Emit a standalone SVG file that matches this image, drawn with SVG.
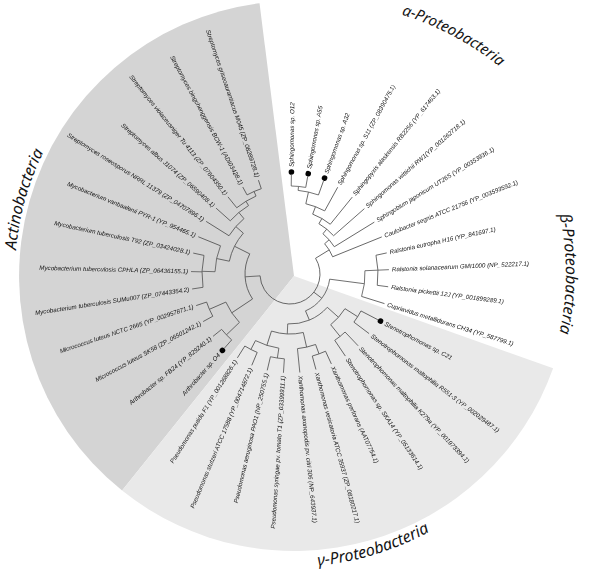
<svg xmlns="http://www.w3.org/2000/svg" width="600" height="576" viewBox="0 0 600 576">
<style>
.lb{font-family:"Liberation Sans",Arial,sans-serif;font-size:6.2px;font-style:italic;fill:#111}
.br line,.br circle{stroke:#555;stroke-width:0.8;fill:none}
.ti{font-family:"Noto Sans","DejaVu Sans",sans-serif;font-style:italic;font-size:16px;fill:#111}
.dot{fill:#000}
</style>
<defs>
<path id="pA" d="M15.8,294.6 A275 275 0 0 1 66.7,113.5"/>
<path id="pAl" d="M382,9 A300 300 0 0 1 515,80"/>
<path id="pB" d="M540.1,157.4 A276 276 0 0 1 540.1,390.6"/>
<path id="pG" d="M249.2,564.2 A293 293 0 0 0 486.1,491.7"/>
</defs>
<rect width="600" height="576" fill="#fff"/>
<g id="sectors">
<path d="M294,276 L259.5,3.2 A275 275 0 0 0 122.1,490.6 Z" fill="#d4d4d4"/>
<path d="M294,276 L122.1,490.6 A275 275 0 0 0 553.1,368.3 Z" fill="#e9e9e9"/>
</g>
<g id="titles" opacity="0.99">
<text class="ti"><textPath href="#pA" startOffset="50%" text-anchor="middle">Actinobacteria</textPath></text>
<text class="ti" style="font-size:15px"><textPath href="#pAl" startOffset="50%" text-anchor="middle">α-Proteobacteria</textPath></text>
<text class="ti"><textPath href="#pB" startOffset="50%" text-anchor="middle">β-Proteobacteria</textPath></text>
<text class="ti"><textPath href="#pG" startOffset="50%" text-anchor="middle">γ-Proteobacteria</textPath></text>
</g>
<g transform="translate(290,274)">
<g id="connectors" class="br">
<circle r="30" transform="rotate(328.4)" stroke-dasharray="108.91 2000"/>
<line x1="30" x2="46" transform="rotate(328.4)"/>
<line x1="30" x2="40" transform="rotate(397.3)"/>
<line x1="30" x2="45" transform="rotate(536.4)"/>
<circle r="88" transform="rotate(270.8)" stroke-dasharray="14.59 2000"/>
<line x1="88" x2="99" transform="rotate(270.8)"/>
<line x1="88" x2="99" transform="rotate(280.3)"/>
<circle r="84" transform="rotate(275.55)" stroke-dasharray="20.89 2000"/>
<line x1="84" x2="88" transform="rotate(275.55)"/>
<line x1="84" x2="99" transform="rotate(289.8)"/>
<circle r="72" transform="rotate(282.7)" stroke-dasharray="20.23 2000"/>
<line x1="72" x2="84" transform="rotate(282.7)"/>
<line x1="72" x2="99" transform="rotate(298.8)"/>
<circle r="64" transform="rotate(290.75)" stroke-dasharray="20.39 2000"/>
<line x1="64" x2="72" transform="rotate(290.75)"/>
<line x1="64" x2="99" transform="rotate(309)"/>
<circle r="58" transform="rotate(299.9)" stroke-dasharray="19.03 2000"/>
<line x1="58" x2="64" transform="rotate(299.9)"/>
<line x1="58" x2="99" transform="rotate(318.7)"/>
<circle r="52" transform="rotate(309.3)" stroke-dasharray="17.33 2000"/>
<line x1="52" x2="58" transform="rotate(309.3)"/>
<line x1="52" x2="99" transform="rotate(328.4)"/>
<circle r="46" transform="rotate(318.85)" stroke-dasharray="15.37 2000"/>
<line x1="46" x2="52" transform="rotate(318.85)"/>
<line x1="46" x2="99" transform="rotate(338)"/>
<circle r="88" transform="rotate(347.7)" stroke-dasharray="30.26 2000"/>
<line x1="88" x2="99" transform="rotate(347.7)"/>
<line x1="88" x2="99" transform="rotate(357.5)"/>
<line x1="88" x2="99" transform="rotate(367.4)"/>
<circle r="75" transform="rotate(357.5)" stroke-dasharray="26.05 2000"/>
<line x1="75" x2="88" transform="rotate(357.5)"/>
<line x1="75" x2="99" transform="rotate(377.4)"/>
<circle r="40" transform="rotate(367.45)" stroke-dasharray="41.71 2000"/>
<line x1="40" x2="75" transform="rotate(367.45)"/>
<line x1="40" x2="50" transform="rotate(427.2)"/>
<circle r="80" transform="rotate(387.5)" stroke-dasharray="13.26 2000"/>
<line x1="80" x2="99" transform="rotate(387.5)"/>
<line x1="80" x2="99" transform="rotate(397)"/>
<circle r="80" transform="rotate(406.5)" stroke-dasharray="13.26 2000"/>
<line x1="80" x2="99" transform="rotate(406.5)"/>
<line x1="80" x2="99" transform="rotate(416)"/>
<circle r="65" transform="rotate(392.25)" stroke-dasharray="21.55 2000"/>
<line x1="65" x2="80" transform="rotate(392.25)"/>
<line x1="65" x2="80" transform="rotate(411.25)"/>
<circle r="50" transform="rotate(401.75)" stroke-dasharray="44.37 2000"/>
<line x1="50" x2="65" transform="rotate(401.75)"/>
<line x1="50" x2="60" transform="rotate(452.6)"/>
<circle r="85" transform="rotate(425.3)" stroke-dasharray="14.09 2000"/>
<line x1="85" x2="99" transform="rotate(425.3)"/>
<line x1="85" x2="99" transform="rotate(434.8)"/>
<circle r="75" transform="rotate(430.05)" stroke-dasharray="18.65 2000"/>
<line x1="75" x2="85" transform="rotate(430.05)"/>
<line x1="75" x2="99" transform="rotate(444.3)"/>
<circle r="85" transform="rotate(453.8)" stroke-dasharray="14.09 2000"/>
<line x1="85" x2="99" transform="rotate(453.8)"/>
<line x1="85" x2="99" transform="rotate(463.3)"/>
<circle r="85" transform="rotate(472.7)" stroke-dasharray="13.95 2000"/>
<line x1="85" x2="99" transform="rotate(472.7)"/>
<line x1="85" x2="99" transform="rotate(482.1)"/>
<circle r="75" transform="rotate(458.55)" stroke-dasharray="24.67 2000"/>
<line x1="75" x2="85" transform="rotate(458.55)"/>
<line x1="75" x2="85" transform="rotate(477.4)"/>
<circle r="60" transform="rotate(437.2)" stroke-dasharray="32.23 2000"/>
<line x1="60" x2="75" transform="rotate(437.2)"/>
<line x1="60" x2="75" transform="rotate(467.98)"/>
<circle r="90" transform="rotate(601.5)" stroke-dasharray="15.55 2000"/>
<line x1="90" x2="99" transform="rotate(601.5)"/>
<line x1="90" x2="99" transform="rotate(611.4)"/>
<circle r="85" transform="rotate(591.2)" stroke-dasharray="22.62 2000"/>
<line x1="85" x2="90" transform="rotate(606.45)"/>
<line x1="85" x2="99" transform="rotate(591.2)"/>
<circle r="80" transform="rotate(581.7)" stroke-dasharray="23.88 2000"/>
<line x1="80" x2="85" transform="rotate(598.8)"/>
<line x1="80" x2="99" transform="rotate(581.7)"/>
<circle r="72" transform="rotate(572.1)" stroke-dasharray="22.81 2000"/>
<line x1="72" x2="80" transform="rotate(590.25)"/>
<line x1="72" x2="99" transform="rotate(572.1)"/>
<circle r="88" transform="rotate(531.3)" stroke-dasharray="32.10 2000"/>
<line x1="88" x2="99" transform="rotate(531.3)"/>
<line x1="88" x2="99" transform="rotate(541.4)"/>
<line x1="88" x2="99" transform="rotate(552.2)"/>
<circle r="75" transform="rotate(541.75)" stroke-dasharray="26.64 2000"/>
<line x1="75" x2="88" transform="rotate(541.75)"/>
<line x1="75" x2="99" transform="rotate(562.1)"/>
<circle r="62" transform="rotate(551.9)" stroke-dasharray="31.71 2000"/>
<line x1="62" x2="75" transform="rotate(551.9)"/>
<line x1="62" x2="72" transform="rotate(581.2)"/>
<circle r="88" transform="rotate(511.3)" stroke-dasharray="15.51 2000"/>
<line x1="88" x2="99" transform="rotate(511.3)"/>
<line x1="88" x2="99" transform="rotate(521.4)"/>
<circle r="88" transform="rotate(491.5)" stroke-dasharray="14.59 2000"/>
<line x1="88" x2="99" transform="rotate(491.5)"/>
<line x1="88" x2="99" transform="rotate(501)"/>
<circle r="70" transform="rotate(496.25)" stroke-dasharray="24.56 2000"/>
<line x1="70" x2="88" transform="rotate(496.25)"/>
<line x1="70" x2="88" transform="rotate(516.35)"/>
<circle r="45" transform="rotate(506.3)" stroke-dasharray="47.32 2000"/>
<line x1="45" x2="70" transform="rotate(506.3)"/>
<line x1="45" x2="62" transform="rotate(566.55)"/>
</g>
<g id="leaves" opacity="0.99">
<g id="P1" transform="rotate(270.8)"><circle class="dot" cx="102" r="2.8"/><text class="lb" x="107" dy="2">Sphingomonas sp. O12</text></g>
<g id="P2" transform="rotate(280.3)"><circle class="dot" cx="102" r="2.8"/><text class="lb" x="107" dy="2">Sphingomonas sp. A55</text></g>
<g id="P3" transform="rotate(289.8)"><circle class="dot" cx="102" r="2.8"/><text class="lb" x="107" dy="2">Sphingomonas sp. A32</text></g>
<g id="P4" transform="rotate(298.8)"><text class="lb" x="102" dy="2">Sphingomonas sp. S11 (ZP_08390475.1)</text></g>
<g id="P5" transform="rotate(309)"><text class="lb" x="102" dy="2">Sphingopyxis alaskensis RB2256 (YP_617463.1)</text></g>
<g id="P6" transform="rotate(318.7)"><text class="lb" x="102" dy="2">Sphingomonas wittichii RW1(YP_001262718.1)</text></g>
<g id="P7" transform="rotate(328.4)"><text class="lb" x="102" dy="2">Sphingobium japonicum UT26S (YP_00353936.1)</text></g>
<g id="P8" transform="rotate(338)"><text class="lb" x="102" dy="2">Caulobacter segnis ATCC 21756 (YP_003593592.1)</text></g>
<g id="P9" transform="rotate(347.7)"><text class="lb" x="102" dy="2">Ralstonia eutropha H16 (YP_841697.1)</text></g>
<g id="B1" transform="rotate(357.5)"><text class="lb" x="102" dy="2">Ralstonia solanacearum GMI1000 (NP_522217.1)</text></g>
<g id="B2" transform="rotate(7.4)"><text class="lb" x="102" dy="2">Ralstonia pickettii 12J (YP_001899289.1)</text></g>
<g id="B3" transform="rotate(17.4)"><text class="lb" x="102" dy="2">Cupriavidus metallidurans CH34 (YP_587799.1)</text></g>
<g id="G1" transform="rotate(27.5)"><circle class="dot" cx="102" r="2.8"/><text class="lb" x="107" dy="2">Stenotrophomonas sp. C21</text></g>
<g id="G2" transform="rotate(37)"><text class="lb" x="102" dy="2">Stenotrophomonas maltophilia R551-3 (YP_002029487.1)</text></g>
<g id="G3" transform="rotate(46.5)"><text class="lb" x="102" dy="2">Stenotrophomonas maltophilia K279a (YP_001973394.1)</text></g>
<g id="G4" transform="rotate(56)"><text class="lb" x="102" dy="2">Stenotrophomonas sp. SKA14 (YP_05133614.1)</text></g>
<g id="G5" transform="rotate(65.3)"><text class="lb" x="102" dy="2">Xanthomonas perforans (AAT07754.1)</text></g>
<g id="G6" transform="rotate(74.8)"><text class="lb" x="102" dy="2">Xanthomonas vesicatoria ATCC 35937 (ZP_08180217.1)</text></g>
<g id="G7" transform="rotate(84.3)"><text class="lb" x="102" dy="2">Xanthomonas axonopodis pv. citri 306 (NP_643937.1)</text></g>
<g id="G8" transform="rotate(93.8) translate(102,0) rotate(180)"><text class="lb" text-anchor="end" dy="2">Pseudomonas syringae pv. tomato T1 (ZP_03399911.1)</text></g>
<g id="G9" transform="rotate(103.3) translate(102,0) rotate(180)"><text class="lb" text-anchor="end" dy="2">Pseudomonas aeruginosa PAO1 (NP_250755.1)</text></g>
<g id="G10" transform="rotate(112.7) translate(102,0) rotate(180)"><text class="lb" text-anchor="end" dy="2">Pseudomonas stutzeri ATCC 17588 (YP_004714872.1)</text></g>
<g id="G11" transform="rotate(122.1) translate(102,0) rotate(180)"><text class="lb" text-anchor="end" dy="2">Pseudomonas putida F1 (YP_001268826.1)</text></g>
<g id="A13" transform="rotate(131.5) translate(102,0) rotate(180)"><circle class="dot" r="2.8"/><text class="lb" x="-5" text-anchor="end" dy="2">Arthrobacter sp. O4</text></g>
<g id="A12" transform="rotate(141) translate(102,0) rotate(180)"><text class="lb" text-anchor="end" dy="2">Arthrobacter sp. FB24 (YP_829240.1)</text></g>
<g id="A11" transform="rotate(151.3) translate(102,0) rotate(180)"><text class="lb" text-anchor="end" dy="2">Micrococcus luteus SK58 (ZP_06501242.1)</text></g>
<g id="A10" transform="rotate(161.4) translate(102,0) rotate(180)"><text class="lb" text-anchor="end" dy="2">Micrococcus luteus NCTC 2665 (YP_002957871.1)</text></g>
<g id="A9" transform="rotate(171.3) translate(102,0) rotate(180)"><text class="lb" text-anchor="end" dy="2">Mycobacterium tuberculosis SUMu007 (ZP_07443354.2)</text></g>
<g id="A8" transform="rotate(181.4) translate(102,0) rotate(180)"><text class="lb" text-anchor="end" dy="2">Mycobacterium tuberculosis CPHLA (ZP_06436155.1)</text></g>
<g id="A7" transform="rotate(192.2) translate(102,0) rotate(180)"><text class="lb" text-anchor="end" dy="2">Mycobacterium tuberculosis T92 (ZP_03424028.1)</text></g>
<g id="A6" transform="rotate(202.1) translate(102,0) rotate(180)"><text class="lb" text-anchor="end" dy="2">Mycobacterium vanbaalenii PYR-1 (YP_954465.1)</text></g>
<g id="A5" transform="rotate(212.1) translate(102,0) rotate(180)"><text class="lb" text-anchor="end" dy="2">Streptomyces roseosporus NRRL 11379 (ZP_04707896.1)</text></g>
<g id="A4" transform="rotate(221.7) translate(102,0) rotate(180)"><text class="lb" text-anchor="end" dy="2">Streptomyces albus J1074 (ZP_06590408.1)</text></g>
<g id="A3" transform="rotate(231.2) translate(102,0) rotate(180)"><text class="lb" text-anchor="end" dy="2">Streptomyces violaceusniger Tu 4113 (ZP_07604350.1)</text></g>
<g id="A2" transform="rotate(241.5) translate(102,0) rotate(180)"><text class="lb" text-anchor="end" dy="2">Streptomyces bingchenggensis BCW-1 (ADI03428.1)</text></g>
<g id="A1" transform="rotate(251.4) translate(102,0) rotate(180)"><text class="lb" text-anchor="end" dy="2">Streptomyces griseoaurantiacus M045 (ZP_08289728.1)</text></g>
</g>
</g>
</svg>
